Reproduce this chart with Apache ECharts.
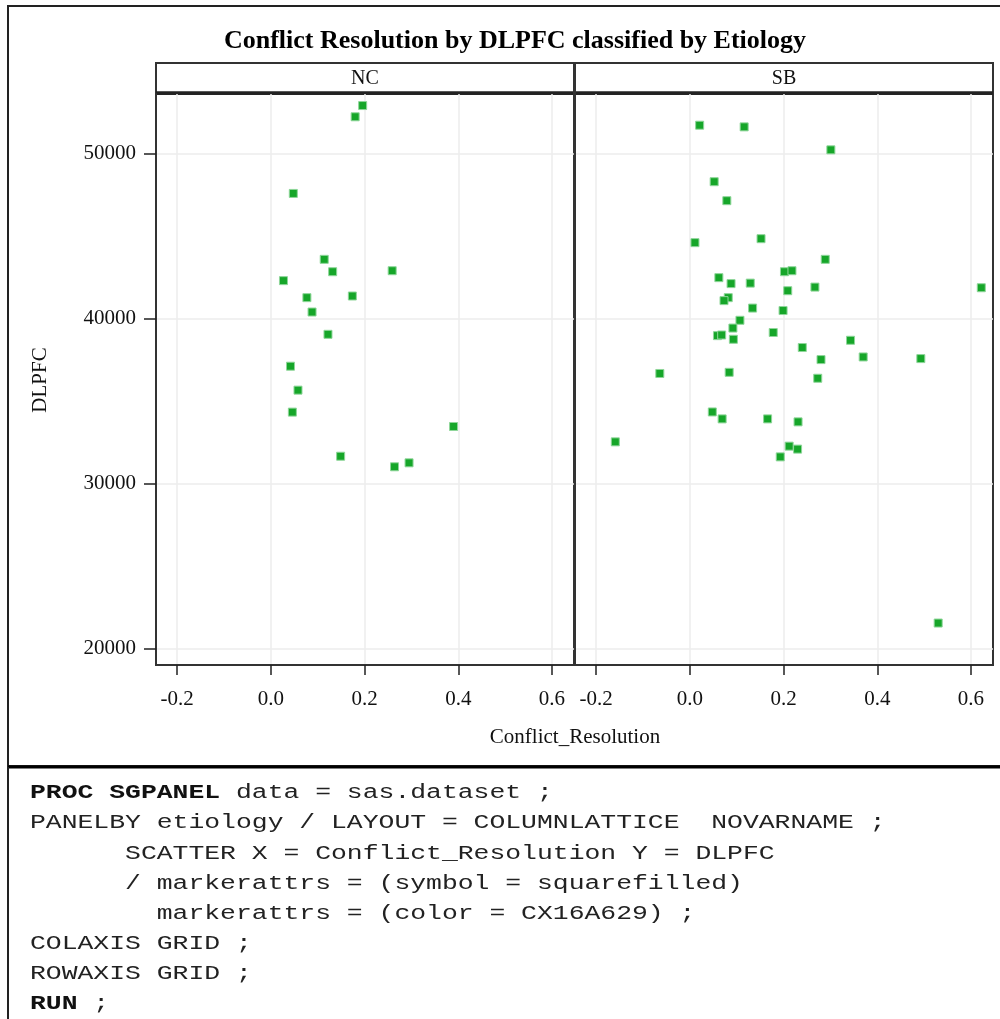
<!DOCTYPE html>
<html>
<head>
<meta charset="utf-8">
<script src="https://cdn.jsdelivr.net/npm/echarts@6/dist/echarts.min.js"></script>
<style>
  html, body { margin: 0; padding: 0; background: #fff; }
  #chart { width: 1000px; height: 1019px; }
</style>
</head>
<body>
<div id="chart"></div>
<script>
// ---- data ----
const panels = ['NC', 'SB'];
const ncX = [0.196, 0.180, 0.048, 0.114, 0.132, 0.259, 0.027, 0.077, 0.174, 0.088, 0.122, 0.042, 0.058, 0.046, 0.390, 0.149, 0.264, 0.295];
const ncY = [52900, 52220, 47580, 43590, 42840, 42900, 42300, 41270, 41370, 40400, 39050, 37120, 35670, 34340, 33470, 31670, 31030, 31270];
const sbX = [0.021, 0.116, 0.301, 0.052, 0.079, 0.011, 0.152, 0.289, 0.202, 0.218, 0.062, 0.088, 0.129, 0.267, 0.622, 0.209, 0.082, 0.073, 0.134, 0.199, 0.107, 0.092, 0.178, 0.059, 0.068, 0.093, 0.343, 0.240, 0.370, 0.493, 0.280, -0.064, 0.084, 0.273, 0.048, 0.069, 0.166, 0.231, -0.159, 0.212, 0.230, 0.193, 0.530];
const sbY = [51710, 51610, 50220, 48290, 47140, 44600, 44840, 43590, 42840, 42900, 42480, 42120, 42150, 41910, 41870, 41690, 41270, 41090, 40640, 40490, 39900, 39430, 39160, 38970, 39010, 38750, 38690, 38250, 37680, 37580, 37520, 36680, 36750, 36390, 34350, 33930, 33930, 33750, 32540, 32280, 32100, 31630, 21570];
const xTicks = [-0.2, 0.0, 0.2, 0.4, 0.6];
const yTicks = [20000, 30000, 40000, 50000];
const xRange = [-0.245, 0.647];
const yRange = [19030, 53600];
const titleText = 'Conflict Resolution by DLPFC classified by Etiology';
const xName = 'Conflict_Resolution';
const yName = 'DLPFC';
const codeLines = [
  '{b|PROC SGPANEL} data = sas.dataset ;',
  'PANELBY etiology / LAYOUT = COLUMNLATTICE  NOVARNAME ;',
  '      SCATTER X = Conflict_Resolution Y = DLPFC',
  '      / markerattrs = (symbol = squarefilled)',
  '        markerattrs = (color = CX16A629) ;',
  'COLAXIS GRID ;',
  'ROWAXIS GRID ;',
  '{b|RUN} ;'
];

const SERIF = '"Liberation Serif", "Times New Roman", serif';
const MONO = '"Liberation Mono", "Courier New", monospace';
const GREEN = '#16A629';

const chart = echarts.init(document.getElementById('chart'), null, { renderer: 'canvas' });

const grids = [
  { left: 156, top: 94, width: 418, height: 571 },
  { left: 575, top: 94, width: 418, height: 571 }
];

function xAxisDef(i) {
  return {
    type: 'value', gridIndex: i, min: xRange[0], max: xRange[1],
    axisLine: { show: true, onZero: false, lineStyle: { color: '#333', width: 2 } },
    axisTick: { show: true, length: 10, customValues: xTicks, lineStyle: { color: '#222', width: 1.5 } },
    axisLabel: { customValues: xTicks, margin: 24, color: '#111', fontFamily: SERIF, fontSize: 21,
      formatter: v => v.toFixed(1) },
    splitLine: { show: true, lineStyle: { color: '#ececec', width: 1.5 } }
  };
}
function yAxisDef(i) {
  return {
    type: 'value', gridIndex: i, min: yRange[0], max: yRange[1],
    axisLine: { show: true, onZero: false, lineStyle: { color: '#333', width: 2 } },
    axisTick: { show: i === 0, length: 12, customValues: yTicks, lineStyle: { color: '#222', width: 1.5 } },
    axisLabel: { show: i === 0, customValues: yTicks, margin: 20, color: '#111', fontFamily: SERIF, fontSize: 21,
      formatter: v => String(Math.round(v)) },
    splitLine: { show: true, lineStyle: { color: '#ececec', width: 1.5 } }
  };
}

function pairs(xs, ys) { return xs.map((x, k) => [x, ys[k]]); }

const codeGraphics = codeLines.map((t, k) => ({
  type: 'text', x: 30, y: 793 + k * 30.15, scaleX: 1.32, z: 10,
  style: {
    text: t, font: '20px ' + MONO, fill: '#222', textAlign: 'left', textVerticalAlign: 'middle',
    rich: { b: { fontWeight: 'bold', fontFamily: MONO, fontSize: 20, fill: '#111' } }
  }
}));

chart.setOption({
  backgroundColor: '#fff',
  animation: false,
  title: {
    text: titleText, left: 510, top: 23, textAlign: 'center',
    textStyle: { fontFamily: SERIF, fontWeight: 'bold', fontSize: 26, color: '#000' }
  },
  grid: grids.map(g => Object.assign({ show: true, borderColor: '#333', borderWidth: 2, backgroundColor: 'transparent' }, g)),
  xAxis: [xAxisDef(0), xAxisDef(1)],
  yAxis: [yAxisDef(0), yAxisDef(1)],
  series: [
    { name: panels[0], type: 'scatter', xAxisIndex: 0, yAxisIndex: 0, symbol: 'rect', symbolSize: 8,
      itemStyle: { color: GREEN, borderColor: '#8fd69a', borderWidth: 1, opacity: 1 }, data: pairs(ncX, ncY) },
    { name: panels[1], type: 'scatter', xAxisIndex: 1, yAxisIndex: 1, symbol: 'rect', symbolSize: 8,
      itemStyle: { color: GREEN, borderColor: '#8fd69a', borderWidth: 1, opacity: 1 }, data: pairs(sbX, sbY) }
  ],
  graphic: [
    // outer chart frame
    { type: 'rect', shape: { x: 8, y: 6, width: 1000, height: 760 }, style: { fill: 'none', stroke: '#222', lineWidth: 2 }, silent: true },
    { type: 'line', shape: { x1: 8, y1: 767, x2: 1000, y2: 767 }, style: { stroke: '#000', lineWidth: 3 }, silent: true },
    { type: 'line', shape: { x1: 8, y1: 767, x2: 8, y2: 1019 }, style: { stroke: '#222', lineWidth: 2 }, silent: true },
    // panel headers
    { type: 'rect', shape: { x: 156, y: 63, width: 837, height: 30 }, style: { fill: '#fff', stroke: '#333', lineWidth: 2 }, silent: true },
    { type: 'line', shape: { x1: 156, y1: 93, x2: 993, y2: 93 }, style: { stroke: '#222', lineWidth: 3.5 }, silent: true },
    { type: 'line', shape: { x1: 574.5, y1: 63, x2: 574.5, y2: 665 }, style: { stroke: '#333', lineWidth: 3 }, silent: true },
    { type: 'text', x: 365, y: 79, style: { text: panels[0], font: '20px ' + SERIF, fill: '#111', textAlign: 'center', textVerticalAlign: 'middle' } },
    { type: 'text', x: 784, y: 79, style: { text: panels[1], font: '20px ' + SERIF, fill: '#111', textAlign: 'center', textVerticalAlign: 'middle' } },
    // axis names
    { type: 'text', x: 575, y: 737, style: { text: xName, font: '21px ' + SERIF, fill: '#111', textAlign: 'center', textVerticalAlign: 'middle' } },
    { type: 'text', x: 40, y: 380, rotation: Math.PI / 2, style: { text: yName, font: '21px ' + SERIF, fill: '#111', textAlign: 'center', textVerticalAlign: 'middle' } }
  ].concat(codeGraphics)
});
</script>
</body>
</html>
